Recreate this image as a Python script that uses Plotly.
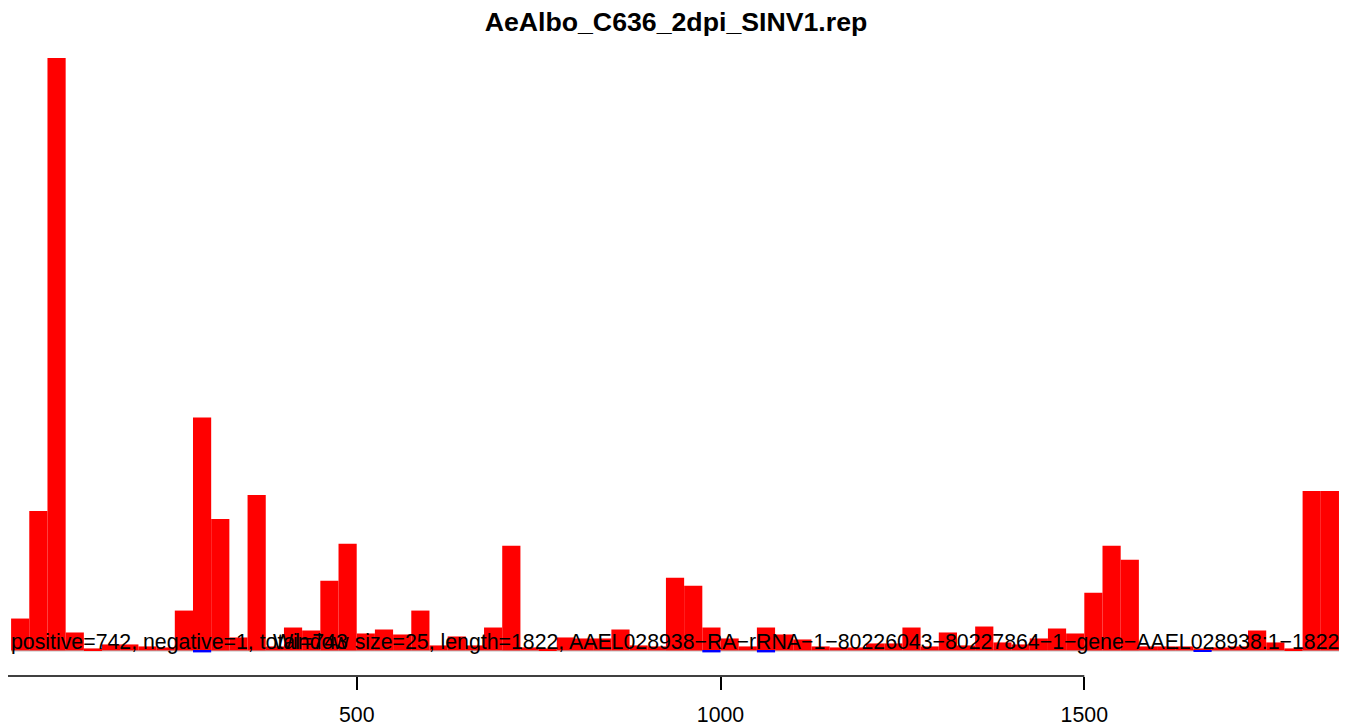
import plotly.graph_objects as go

# ---- data ----
window = 25
seq_length = 1822
title_text = "AeAlbo_C636_2dpi_SINV1.rep"
positive_counts = [32, 140, 595, 18, 2, 6, 6, 4, 3, 40, 234, 132, 13, 156, 4, 23, 20, 70, 107, 17,
                   21, 16, 40, 5, 14, 5, 23, 105, 3, 2, 13, 12, 12, 21, 5, 4, 73, 65, 23, 12,
                   4, 23, 16, 11, 4, 3, 3, 7, 7, 23, 4, 18, 5, 24, 8, 6, 12, 22, 17, 58,
                   105, 91, 4, 4, 4, 2, 3, 4, 20, 8, 2, 160, 160]
negative_bins = [11, 39, 42, 66]
negative_counts = [-2, -2, -2, -1]
tick_vals = [0, 500, 1000, 1500]
tick_text = ["0", "500", "1000", "1500"]
summary_left = "positive=742, negative=1, total=743"
summary_right = ("Window size=25, length=1822, AAEL028938\u2212RA\u2212rRNA\u22121\u221280226043"
                 "\u221280227864\u22121\u2212gene\u2212AAEL028938:1\u22121822")

# bins: left edges at window*k, k = 1..n
n = len(positive_counts)
pos_x = [window * (k + 1) + window / 2 for k in range(n)]
neg_x = [window * k + window / 2 for k in negative_bins]
x_start = window
x_end = window * (n + 1)

FONT = "Liberation Sans, Arial, Helvetica, sans-serif"

# the page body has an 8px margin; size the figure to fill the rest of the window
W, H = 1344, 719

fig = go.Figure()
fig.add_trace(go.Bar(x=pos_x, y=positive_counts, width=window,
                     marker=dict(color="#FF0000", line=dict(width=0)),
                     showlegend=False, hoverinfo="x+y"))
fig.add_trace(go.Bar(x=neg_x, y=negative_counts, width=window,
                     marker=dict(color="#0000FF", line=dict(width=0)),
                     showlegend=False, hoverinfo="x+y"))

# thin grey baseline under the bars
fig.add_shape(type="line", xref="x", yref="y", x0=x_start, x1=x_end, y0=0, y1=0,
              line=dict(color="#BEBEBE", width=2), layer="below")
# axis line from first to last tick
fig.add_shape(type="line", xref="x", yref="paper", x0=min(tick_vals), x1=max(tick_vals),
              y0=0, y1=0, line=dict(color="black", width=1.5), layer="above")

fig.add_annotation(x=x_start, y=0, xref="x", yref="y", text=summary_left, showarrow=False,
                   xanchor="left", yanchor="bottom", yshift=-6, xshift=-2,
                   font=dict(family=FONT, size=21.3, color="black"))
fig.add_annotation(x=x_end, y=0, xref="x", yref="y", text=summary_right, showarrow=False,
                   xanchor="right", yanchor="bottom", yshift=-6, xshift=2,
                   font=dict(family=FONT, size=21.3, color="black"))

fig.update_layout(
    width=W, height=H,
    margin=dict(l=0, r=0, t=32, b=48),
    paper_bgcolor="white", plot_bgcolor="white",
    barmode="overlay",
    title=dict(text=title_text, x=0.497, xanchor="center", y=1 - 14 / H, yanchor="middle",
               yref="container",
               font=dict(family=FONT, size=26.7, color="black", weight="bold")),
    xaxis=dict(range=[20.75, 1867.9], tickvals=tick_vals, ticktext=tick_text,
               ticks="outside", ticklen=13, tickwidth=1.5, tickcolor="black",
               ticklabelstandoff=6,
               showgrid=False, zeroline=False, showline=False,
               tickfont=dict(family=FONT, size=21.3, color="black")),
    yaxis=dict(range=[-25.7, 613], visible=False, showgrid=False, zeroline=False),
)

fig.write_html("out.html")
